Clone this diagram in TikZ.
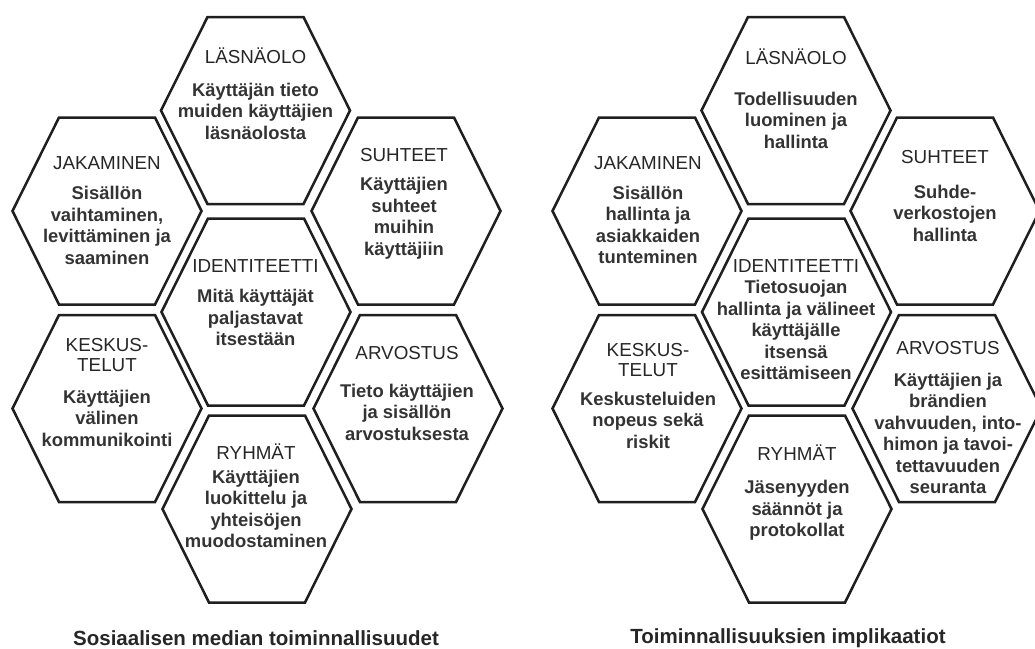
\documentclass[tikz,border=0pt]{standalone}
\usepackage{fontspec}
\setmainfont{Liberation Sans}
\tikzset{
  hexline/.style={draw=black!88, line width=2.5pt, line join=miter},
  head/.style={font=\fontsize{18.8}{20.5}\selectfont, text=black!85, inner sep=0pt, align=center},
  body/.style={font=\fontsize{18.4}{21.5}\selectfont\bfseries, text=black!80, inner sep=0pt, align=center},
  caption/.style={font=\fontsize{20.5}{24}\selectfont\bfseries, text=black!85, inner sep=0pt}
}
\newcommand\hexcell[3]{%
  \coordinate (#1) at (#2,#3);
  \draw[hexline] (#2-94.5,#3) -- (#2-48,#3-93.5) -- (#2+48,#3-93.5) -- (#2+94.5,#3)
     -- (#2+48,#3+93.5) -- (#2-48,#3+93.5) -- cycle;}
\begin{document}
\begin{tikzpicture}[x=1pt,y=-1pt]
\useasboundingbox (0,0) rectangle (1035,648);
% ---------------- left diagram ----------------
\hexcell{LL}{255.5}{110.5}
\hexcell{LJ}{107}{211}
\hexcell{LS}{406}{211}
\hexcell{LI}{256}{312}
\hexcell{LK}{107}{408.5}
\hexcell{LA}{408}{408.5}
\hexcell{LR}{257}{509}

\node[head] (LLh) at (255.5,56) {LÄSNÄOLO};
\node[body] (LLb) at (255.5,111) {Käyttäjän tieto\\muiden käyttäjien\\läsnäolosta};
\node[head] (LJh) at (107,163) {JAKAMINEN};
\node[body] (LJb) at (107,225.5) {Sisällön\\vaihtaminen,\\levittäminen ja\\saaminen};
\node[head] (LSh) at (404,155) {SUHTEET};
\node[body] (LSb) at (404,218) {Käyttäjien\\suhteet\\muihin\\käyttäjiin};
\node[head] (LIh) at (255.5,266) {IDENTITEETTI};
\node[body] (LIb) at (255.5,317.5) {Mitä käyttäjät\\paljastavat\\itsestään};
\node[head] (LKh) at (107,355) {KESKUS-\\TELUT};
\node[body] (LKb) at (107,418) {Käyttäjien\\välinen\\kommunikointi};
\node[head] (LAh) at (407,353) {ARVOSTUS};
\node[body] (LAb) at (407,412) {Tieto käyttäjien\\ja sisällön\\arvostuksesta};
\node[head] (LRh) at (256,452) {RYHMÄT};
\node[body] (LRb) at (256,509) {Käyttäjien\\luokittelu ja\\yhteisöjen\\muodostaminen};
\node[caption] (Lcap) at (256,638) {Sosiaalisen median toiminnallisuudet};

% ---------------- right diagram ----------------
\hexcell{RL}{796}{110.5}
\hexcell{RJ}{647}{211}
\hexcell{RS}{945}{211}
\hexcell{RI}{796.5}{312}
\hexcell{RK}{647}{408.5}
\hexcell{RA}{947}{408.5}
\hexcell{RR}{797}{509}

\node[head] (RLh) at (796,57) {LÄSNÄOLO};
\node[body] (RLb) at (796,120) {Todellisuuden\\luominen ja\\hallinta};
\node[head] (RJh) at (648,163) {JAKAMINEN};
\node[body] (RJb) at (648,225) {Sisällön\\hallinta ja\\asiakkaiden\\tunteminen};
\node[head] (RSh) at (945,157) {SUHTEET};
\node[body] (RSb) at (945,213) {Suhde-\\verkostojen\\hallinta};
\node[head] (RIh) at (796,266) {IDENTITEETTI};
\node[body] (RIb) at (796,330) {Tietosuojan\\hallinta ja välineet\\käyttäjälle\\itsensä\\esittämiseen};
\node[head] (RKh) at (648,360) {KESKUS-\\TELUT};
\node[body] (RKb) at (648,420) {Keskusteluiden\\nopeus sekä\\riskit};
\node[head] (RAh) at (948,348) {ARVOSTUS};
\node[body] (RAb) at (948,433.5) {Käyttäjien ja\\brändien\\vahvuuden, into-\\himon ja tavoi-\\tettavuuden\\seuranta};
\node[head] (RRh) at (797,453) {RYHMÄT};
\node[body] (RRb) at (797,510.5) {Jäsenyyden\\säännöt ja\\protokollat};
\node[caption] (Rcap) at (788,638) {Toiminnallisuuksien implikaatiot};
\end{tikzpicture}
\end{document}
